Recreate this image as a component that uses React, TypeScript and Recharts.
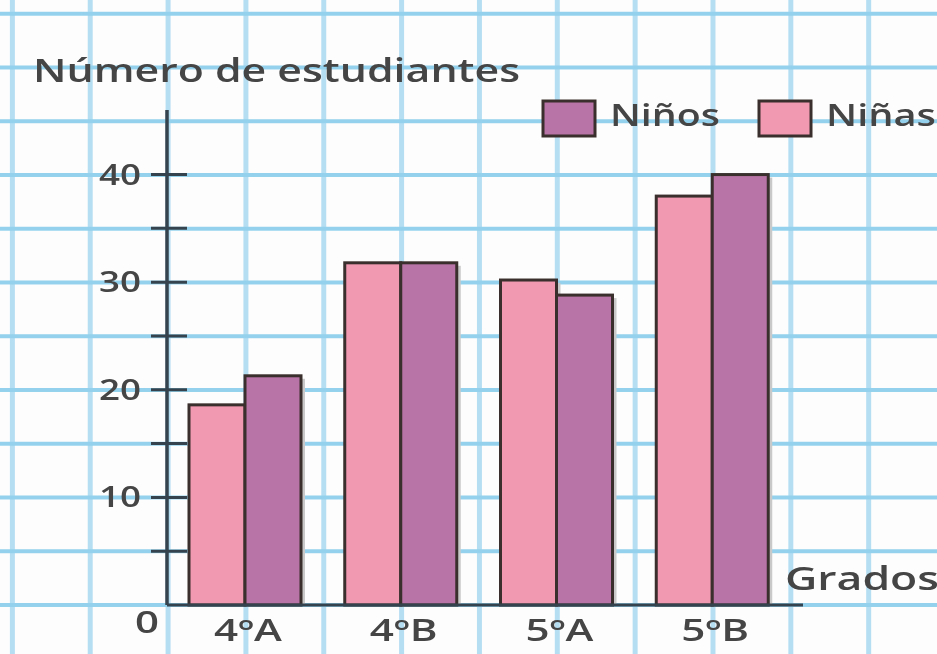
import { BarChart, Bar, XAxis, YAxis } from 'recharts';

const grados = ['4ºA', '4ºB', '5ºA', '5ºB'];
const ninas = [18.6, 31.8, 30.2, 38];
const ninos = [21.3, 31.8, 28.8, 40];
const yTicks = [0, 5, 10, 15, 20, 25, 30, 35, 40];
const legendItems = [
  { name: 'Niños', color: '#b874a6' },
  { name: 'Niñas', color: '#f199b1' },
];

const data = grados.map((g, i) => ({ grado: g, ninas: ninas[i], ninos: ninos[i] }));

const INK = '#454545';
const AXIS = '#34434e';
const EDGE = '#3a2f2c';
const FONT = '"Open Sans", sans-serif';
const WEIGHT = 600;

const YTick = (props: any) => {
  const { x, y, payload } = props;
  const v = payload.value;
  return (
    <g>
      {v > 0 && <line x1={x - 16} x2={x + 20} y1={y} y2={y} stroke={AXIS} strokeWidth={3} />}
      {v === 0 && (
        <text x={x - 20} y={y + 28} textAnchor="middle" fontSize={30} fontWeight={WEIGHT} fill={INK} fontFamily={FONT}
          textLength={24} lengthAdjust="spacingAndGlyphs">0</text>
      )}
      {v > 0 && v % 10 === 0 && (
        <text x={x - 26} y={y + 10} textAnchor="end" fontSize={29} fontWeight={WEIGHT} fill={INK} fontFamily={FONT}
          textLength={42} lengthAdjust="spacingAndGlyphs">{v}</text>
      )}
    </g>
  );
};

const XTick = (props: any) => {
  const { x, y, payload } = props;
  return (
    <text x={x + 3} y={y + 36} textAnchor="middle" fontSize={30} fontWeight={WEIGHT} fill={INK} fontFamily={FONT}
      textLength={68} lengthAdjust="spacingAndGlyphs">{payload.value}</text>
  );
};

const BarShape = (props: any) => {
  const { x, y, width, height, fill } = props;
  if (!height) return null;
  return (
    <g>
      <rect x={x + 4} y={y + 3} width={width} height={height - 3} fill="#c9c9c9" />
      <rect x={x} y={y} width={width} height={height} fill={fill} stroke={EDGE} strokeWidth={3} />
    </g>
  );
};

export default function App() {
  return (
    <div
      style={{
        position: 'absolute',
        left: 0,
        top: 0,
        width: 937,
        height: 654,
        overflow: 'hidden',
        backgroundColor: '#fdfdfd',
        backgroundImage:
          'linear-gradient(to bottom, #93d1ec 0px, #93d1ec 4px, transparent 4px), linear-gradient(to right, #b5def2 0px, #b5def2 5px, transparent 5px)',
        backgroundSize: '100% 53.75px, 77.85px 100%',
        backgroundPosition: '0 11.75px, 9.9px 0',
        filter: 'blur(0.6px)',
      }}
    >
      <BarChart
        width={937}
        height={654}
        data={data}
        margin={{ top: 110, right: 134, bottom: 0, left: 0 }}
        barGap={0}
        style={{ position: 'absolute', left: 0, top: 0 }}
      >
        <XAxis
          dataKey="grado"
          height={49}
          padding={{ left: 0, right: 13 }}
          axisLine={{ stroke: AXIS, strokeWidth: 3 }}
          tickLine={false}
          tickSize={0}
          tickMargin={0}
          tick={<XTick />}
          interval={0}
        />
        <YAxis
          width={167}
          domain={[0, 46]}
          ticks={yTicks}
          interval={0}
          axisLine={{ stroke: AXIS, strokeWidth: 3.5 }}
          tickLine={false}
          tickSize={0}
          tickMargin={0}
          tick={<YTick />}
        />
        <Bar dataKey="ninas" name="Niñas" fill="#f199b1" barSize={56} shape={<BarShape />} isAnimationActive={false} />
        <Bar dataKey="ninos" name="Niños" fill="#b874a6" barSize={56} shape={<BarShape />} isAnimationActive={false} />
      </BarChart>

      <svg width={937} height={654} style={{ position: 'absolute', left: 0, top: 0, pointerEvents: 'none' }}>
        <text x={33} y={82} fontSize={32} fontWeight={WEIGHT} fill={INK} fontFamily={FONT} textLength={487} lengthAdjust="spacingAndGlyphs">
          Número de estudiantes
        </text>
        <text x={785} y={590} fontSize={32} fontWeight={WEIGHT} fill={INK} fontFamily={FONT} textLength={154} lengthAdjust="spacingAndGlyphs">
          Grados
        </text>
        {legendItems.map((item, i) => {
          const bx = 543 + i * 216;
          return (
            <g key={item.name}>
              <rect x={bx} y={101} width={52} height={35} fill={item.color} stroke={EDGE} strokeWidth={3} />
              <text x={bx + 67} y={126} fontSize={31} fontWeight={WEIGHT} fill={INK} fontFamily={FONT} textLength={110}
                lengthAdjust="spacingAndGlyphs">{item.name}</text>
            </g>
          );
        })}
      </svg>
    </div>
  );
}
